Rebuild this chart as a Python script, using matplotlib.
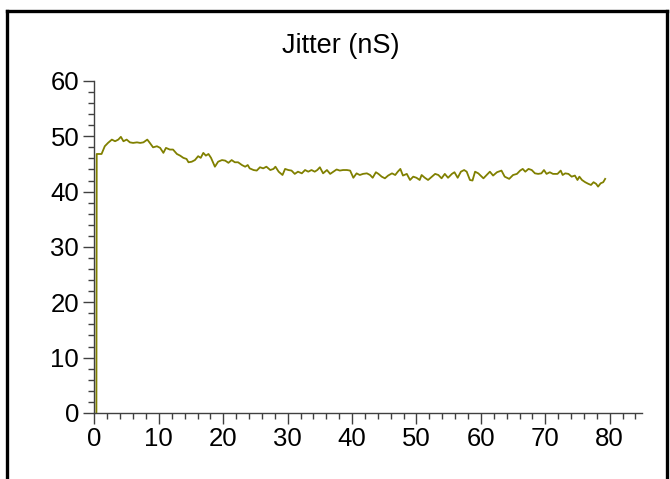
import numpy as np
import matplotlib
matplotlib.use("Agg")
import matplotlib.pyplot as plt
from matplotlib.lines import Line2D
from matplotlib.ticker import MultipleLocator

plt.rcParams["font.family"] = ["Liberation Sans", "DejaVu Sans"]

# Jitter trace (time, jitter in nS)
time_s = [0.30, 0.35,
          1.1, 1.6, 2.1, 2.7, 3.2, 3.7, 4.1, 4.5, 5.0, 5.5, 6.0, 6.6, 7.1, 7.6,
          8.2, 8.6, 9.1, 9.7, 10.2, 10.7, 11.1, 11.7, 12.2, 12.8, 13.3, 13.8, 14.3,
          14.6, 15.1, 15.6, 16.1, 16.5, 16.9, 17.3, 17.7, 18.1, 18.7, 19.2, 19.8,
          20.3, 20.8, 21.3, 21.8, 22.3, 22.9, 23.4, 23.8, 24.1, 24.7, 25.2, 25.7,
          26.2, 26.7, 27.3, 27.8, 28.1, 28.6,
          29.2, 29.6, 30.1, 30.6, 31.1, 31.6, 32.2, 32.7, 33.2, 33.7, 34.2, 34.6,
          35.0, 35.5, 36.1, 36.6, 37.1, 37.6, 38.1, 38.6, 39.2, 39.7, 40.2, 40.7,
          41.2, 41.7, 42.3, 42.8, 43.2, 43.7,
          44.1, 44.6, 45.1, 45.6, 46.2, 46.7, 47.1, 47.5, 47.9, 48.5, 49.0, 49.5,
          50.0, 50.5, 50.8, 51.3, 51.8, 52.4, 52.9, 53.4, 53.9, 54.4, 54.9, 55.5,
          55.9, 56.4, 56.9, 57.4, 57.8, 58.3,
          58.7, 59.1, 59.6, 60.4, 60.9, 61.4, 61.9, 62.5, 63.2, 63.7, 64.4, 65.0,
          65.6, 66.1, 66.5, 66.9, 67.4, 67.9, 68.4, 68.9, 69.4, 69.8, 70.2, 70.7,
          71.2, 71.9, 72.4,
          72.7, 73.1, 73.6, 74.1, 74.6, 75.0, 75.3, 75.7, 76.2, 76.7, 77.1, 77.5,
          77.9, 78.2, 78.6, 79.0, 79.3]

jitter_ns = [0.0, 46.8,
             46.8, 48.2, 48.8, 49.4, 49.1, 49.4, 49.9, 49.1, 49.4, 48.9, 48.8, 48.9,
             48.8, 48.9, 49.4, 48.8, 48.0, 48.2, 47.9, 47.0, 47.9, 47.6, 47.6, 46.8,
             46.5, 46.1, 45.9,
             45.3, 45.4, 45.7, 46.4, 46.1, 47.0, 46.5, 46.8, 46.1, 44.5, 45.4, 45.7,
             45.6, 45.2, 45.7, 45.3, 45.3, 44.8, 44.5, 44.8, 44.2, 43.9, 43.8, 44.4,
             44.2, 44.5, 43.9, 44.1, 44.5, 43.6,
             43.0, 44.1, 43.9, 43.8, 43.2, 43.6, 43.3, 43.9, 43.6, 43.9, 43.6, 43.9,
             44.4, 43.3, 43.9, 43.2, 43.6, 44.0, 43.8, 43.9, 43.9, 43.8, 42.5, 43.3,
             43.0, 43.2, 43.3, 43.0, 42.5, 43.5,
             43.2, 42.7, 42.4, 42.9, 43.3, 43.0, 43.6, 44.1, 42.9, 43.2, 42.1, 42.7,
             42.5, 42.1, 43.0, 42.5, 42.1, 42.7, 43.2, 43.0, 42.4, 43.2, 42.5, 43.2,
             43.5, 42.5, 43.6, 43.9, 43.6, 42.1,
             42.0, 43.6, 43.3, 42.4, 43.0, 43.6, 42.9, 43.5, 43.8, 42.7, 42.3, 43.0,
             43.2, 43.8, 44.1, 43.6, 44.1, 43.9, 43.3, 43.2, 43.3, 43.9, 43.2, 43.5,
             43.2, 43.2, 43.8,
             43.0, 43.3, 43.2, 42.7, 42.9, 42.1, 42.7, 42.1, 41.7, 41.4, 41.2, 41.7,
             41.4, 40.9, 41.5, 41.7, 42.3]

title = "Jitter (nS)"
x_max, y_max = 85, 60

fig = plt.figure(figsize=(6.7, 4.79), dpi=100)
ax = fig.add_axes([0.141, 0.138, 0.817, 0.693])

ax.plot(time_s, jitter_ns, color="#808000", linewidth=1.3)

ax.set_xlim(0, x_max)
ax.set_ylim(0, y_max)
ax.xaxis.set_major_locator(MultipleLocator(10))
ax.xaxis.set_minor_locator(MultipleLocator(2))
ax.yaxis.set_major_locator(MultipleLocator(10))
ax.yaxis.set_minor_locator(MultipleLocator(2))

for side in ("top", "right"):
    ax.spines[side].set_visible(False)
for side in ("left", "bottom"):
    ax.spines[side].set_color("#404040")
    ax.spines[side].set_linewidth(1.0)

ax.tick_params(which="major", direction="out", length=8, width=1.0,
               color="#404040", labelsize=18.5, pad=2)
ax.tick_params(which="minor", direction="out", length=4.5, width=1.0,
               color="#404040")
ax.tick_params(axis="y", which="major", pad=3)

fig.text(0.508, 0.905, title, ha="center", va="center", fontsize=19.5)

# outer frame (left, top, right)
lw = 2.4
fig.add_artist(Line2D([7 / 670, 7 / 670], [0, 1 - 11 / 479], color="black", linewidth=lw))
fig.add_artist(Line2D([7 / 670, 667 / 670], [1 - 11 / 479, 1 - 11 / 479], color="black", linewidth=lw))
fig.add_artist(Line2D([667 / 670, 667 / 670], [0, 1 - 11 / 479], color="black", linewidth=lw))

fig.savefig("out.png", dpi=100)
